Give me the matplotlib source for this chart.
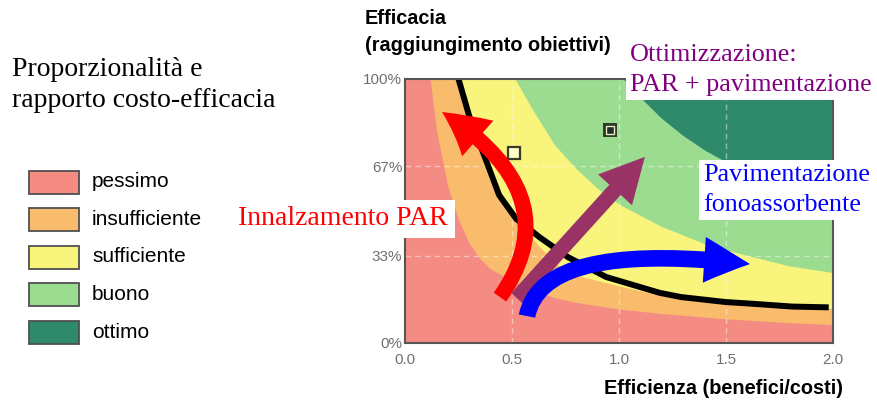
import numpy as np
import matplotlib.pyplot as plt
from matplotlib.patches import Rectangle, FancyArrowPatch
from matplotlib.path import Path

W, H = 878, 401

# rating zones (colours + legend labels)
zone_labels = ["pessimo", "insufficiente", "sufficiente", "buono", "ottimo"]
zone_colors = ["#F58C84", "#F8BC6C", "#F8F47C", "#9CDC90", "#2F8A6C"]

# boundaries between zones (x = efficienza, y = efficacia)
b1_x = [0.12, 0.15, 0.20, 0.25, 0.30, 0.35, 0.40, 0.50, 0.60, 0.70, 0.80, 1.00, 1.20, 1.50, 1.80, 2.00]
b1_y = [1.00, 0.80, 0.60, 0.47, 0.38, 0.32, 0.28, 0.235, 0.20, 0.17, 0.152, 0.127, 0.11, 0.09, 0.075, 0.068]
b2_x = [0.25, 0.30, 0.35, 0.40, 0.48, 0.63, 0.72, 0.80, 1.00, 1.19, 1.50, 1.80, 2.00]
b2_y = [1.00, 0.84, 0.72, 0.61, 0.50, 0.364, 0.29, 0.255, 0.215, 0.18, 0.15, 0.135, 0.13]
b3_x = [0.515, 0.60, 0.70, 0.80, 0.90, 1.00, 1.20, 1.40, 1.60, 1.80, 2.00]
b3_y = [1.00, 0.88, 0.75, 0.66, 0.585, 0.525, 0.44, 0.375, 0.33, 0.29, 0.265]
b4_x = [1.02, 1.10, 1.20, 1.30, 1.40, 1.60, 1.80, 2.00]
b4_y = [1.00, 0.93, 0.85, 0.785, 0.73, 0.64, 0.57, 0.51]

# black frontier curve
curve_x = [0.25, 0.30, 0.37, 0.44, 0.52, 0.63, 0.76, 0.94, 1.19, 1.29, 1.50, 1.60, 1.81, 1.98]
curve_y = [1.00, 0.86, 0.71, 0.56, 0.47, 0.40, 0.326, 0.25, 0.19, 0.174, 0.155, 0.15, 0.138, 0.135]

# the two square markers
sq_open = (0.51, 0.72)
sq_full = (0.958, 0.807)

# arrows (start, bend control, tip; data coords)
red_pts = [(0.444, 0.174), (0.78, 0.56), (0.173, 0.875)]
blue_pts = [(0.570, 0.102), (0.640, 0.390), (1.612, 0.299)]
purple_pts = [(0.523, 0.170), (1.121, 0.705)]

xticks = [0.0, 0.5, 1.0, 1.5, 2.0]
xtick_labels = ["0.0", "0.5", "1.0", "1.5", "2.0"]
yticks = [0.0, 0.33, 0.67, 1.0]
ytick_labels = ["0%", "33%", "67%", "100%"]

serif = "Liberation Serif"
sans = "Liberation Sans"


def fx(px):
    return px / W


def fy(py):
    return 1 - py / H


fig = plt.figure(figsize=(W / 100, H / 100), dpi=100)
ax = fig.add_axes([fx(405), fy(343), fx(833) - fx(405), fy(79) - fy(343)])
ax.set_xlim(0, 2)
ax.set_ylim(0, 1)

# zones, painted from worst to best
ax.fill_between([0, 2], 0, 1, color=zone_colors[0], lw=0, zorder=0)
for bx, by, col in zip([b1_x, b2_x, b3_x, b4_x], [b1_y, b2_y, b3_y, b4_y], zone_colors[1:]):
    px = list(bx) + [2.0, bx[0]]
    py = list(by) + [1.0, 1.0]
    ax.fill(px, py, color=col, lw=0, zorder=0.5)

# dashed grid
for gx in xticks[1:-1]:
    ax.axvline(gx, color="white", alpha=0.45, lw=1, ls=(0, (4, 3)), zorder=1)
for gy in yticks[1:-1]:
    ax.axhline(gy, color="white", alpha=0.45, lw=1, ls=(0, (4, 3)), zorder=1)

ax.plot(curve_x, curve_y, color="black", lw=4.3, solid_capstyle="butt", zorder=2)

ax.plot(*sq_open, marker="s", ms=8, mfc="#FFFFC8", mec="#3A3A28", mew=1.6, zorder=3)
ax.plot(*sq_full, marker="s", ms=9, mfc="#203028", mec="#303A28", mew=1.4, zorder=3)
ax.plot(*sq_full, marker="s", ms=5.5, mfc="#203028", mec="#E8EEC8", mew=1.0, zorder=3)

# arrows
quad = [Path.MOVETO, Path.CURVE3, Path.CURVE3]
ax.add_patch(FancyArrowPatch(path=Path(red_pts, quad),
                             arrowstyle="simple,head_width=3.4,head_length=3.2,tail_width=1.1",
                             mutation_scale=10, color="#FF0000", lw=0, zorder=4))
ax.add_patch(FancyArrowPatch(purple_pts[0], purple_pts[1], shrinkA=0, shrinkB=0,
                             arrowstyle="simple,head_width=3.3,head_length=3.2,tail_width=1.1",
                             mutation_scale=10, color="#993366", lw=0, zorder=5))
ax.add_patch(FancyArrowPatch(path=Path(blue_pts, quad),
                             arrowstyle="simple,head_width=3.3,head_length=3.3,tail_width=1.2",
                             mutation_scale=10, color="#0000FF", lw=0, zorder=6))

ax.set_xticks(xticks)
ax.set_xticklabels(xtick_labels)
ax.set_yticks(yticks)
ax.set_yticklabels(ytick_labels)
ax.tick_params(length=0, labelsize=11, labelcolor="#707070")
ax.tick_params(axis="x", pad=7)
ax.tick_params(axis="y", pad=2)
for lab in ax.get_xticklabels() + ax.get_yticklabels():
    lab.set_fontfamily(sans)
for sp in ax.spines.values():
    sp.set_color("#555555")
    sp.set_linewidth(1.5)

# axis titles
fig.text(fx(365), fy(32), "Efficacia\n(raggiungimento obiettivi)", family=sans,
         fontweight="bold", fontsize=14.3, ha="left", va="center", linespacing=1.55)
fig.text(fx(843), fy(389), "Efficienza (benefici/costi)", family=sans,
         fontweight="bold", fontsize=14.3, ha="right", va="center")

# left heading
fig.text(fx(12), fy(85), "Proporzionalità e\nrapporto costo-efficacia", family=serif,
         fontsize=20, ha="left", va="center", linespacing=1.35)

# legend
for i, (lab, col) in enumerate(zip(zone_labels, zone_colors)):
    cy = 182 + i * 37.5
    fig.add_artist(Rectangle((fx(29), fy(cy + 11.5)), fx(50), 23 / H, transform=fig.transFigure,
                             facecolor=col, edgecolor="#505050", lw=1.3))
    fig.text(fx(92), fy(cy), lab, family=sans, fontsize=15, ha="left", va="center")

# annotations
fig.text(fx(630), fy(70), "Ottimizzazione:\nPAR + pavimentazione", family=serif, fontsize=18.8,
         color="#800080", ha="left", va="center", linespacing=1.5,
         bbox=dict(facecolor="white", edgecolor="none", pad=3))
fig.text(fx(703), fy(190), "Pavimentazione\nfonoassorbente", family=serif, fontsize=18.8,
         color="#0000FF", ha="left", va="center", linespacing=1.5,
         bbox=dict(facecolor="white", edgecolor="none", pad=3))
fig.text(fx(238), fy(219), "Innalzamento PAR", family=serif, fontsize=20,
         color="#FF0000", ha="left", va="center",
         bbox=dict(facecolor="white", edgecolor="none", pad=5))

fig.savefig("out.png", dpi=100)
